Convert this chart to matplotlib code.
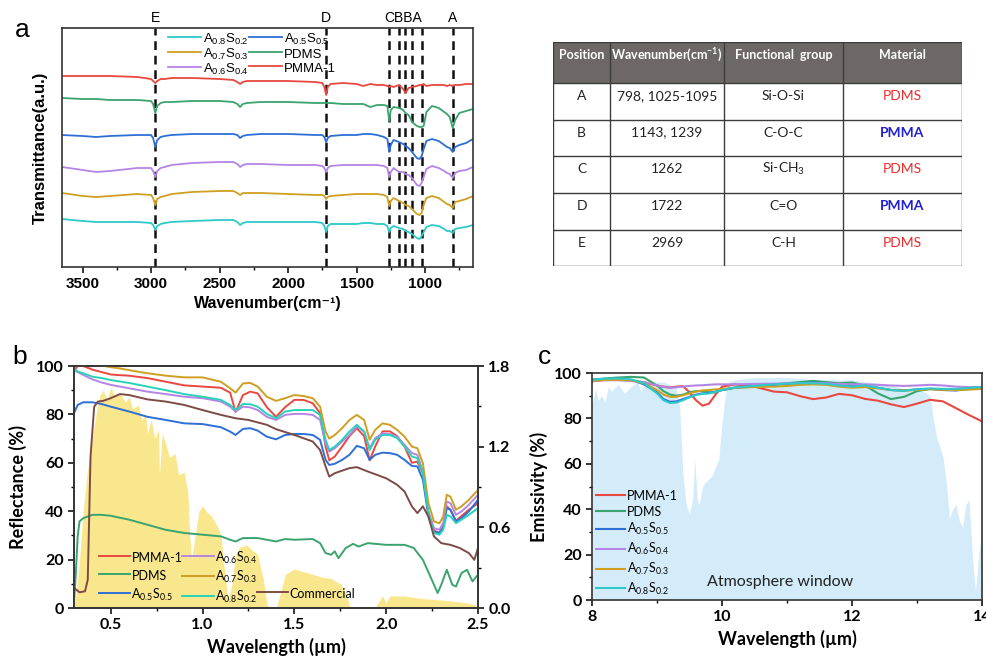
import matplotlib
matplotlib.use('Agg')
import matplotlib.pyplot as plt
from matplotlib.ticker import MultipleLocator
from matplotlib.lines import Line2D
from matplotlib.patches import Rectangle
import matplotlib.transforms as mtransforms

plt.rcParams['font.family'] = ['Liberation Sans', 'DejaVu Sans']
plt.rcParams['mathtext.default'] = 'regular'

# ---------------- data: (a) FTIR spectra, offset, arbitrary units ----------------
ftir_wn = [3650, 3500, 3400, 3300, 3100, 3000, 2985, 2969, 2955, 2930,
           2900, 2850, 2700, 2500, 2400, 2370, 2350, 2330, 2300, 2200,
           2000, 1800, 1750, 1735, 1722, 1710, 1690, 1600, 1500, 1450,
           1400, 1350, 1300, 1275, 1262, 1250, 1230, 1190, 1160, 1143,
           1120, 1095, 1060, 1040, 1025, 1010, 990, 950, 900, 860,
           840, 820, 798, 780, 750, 700, 650]
ftir_pmma = [191, 191, 191, 191, 190, 188, 186, 184, 186, 188,
             188, 189, 189, 188, 187, 185, 183, 185, 186, 186,
             186, 185, 184, 180, 172, 180, 183, 184, 183, 181,
             183, 182, 182, 181, 180, 181, 180, 182, 178, 174,
             179, 180, 181, 182, 182, 183, 181, 182, 182, 182,
             181, 182, 181, 182, 182, 183, 183]
ftir_pdms = [169, 168, 168, 167, 167, 166, 163, 154, 161, 164,
             165, 165, 166, 166, 165, 163, 160, 163, 164, 165,
             165, 164, 164, 164, 164, 164, 164, 163, 163, 163,
             160, 162, 162, 161, 146, 157, 160, 159, 157, 154,
             152, 145, 141, 140, 140, 141, 155, 161, 159, 155,
             153, 150, 139, 147, 154, 156, 158]
ftir_a55 = [132, 131, 130, 131, 132, 132, 129, 120, 127, 130,
            131, 132, 133, 133, 133, 132, 129, 131, 132, 133,
            133, 132, 132, 130, 125, 129, 131, 132, 132, 133,
            133, 132, 130, 128, 115, 122, 127, 125, 123, 121,
            119, 115, 109, 108, 111, 118, 126, 128, 126, 122,
            120, 119, 115, 120, 122, 124, 128]
ftir_a64 = [100, 97, 95, 96, 99, 99, 96, 90, 96, 99,
            100, 102, 104, 105, 105, 103, 100, 102, 103, 103,
            102, 102, 101, 99, 95, 99, 101, 102, 102, 102,
            102, 102, 101, 99, 90, 95, 99, 95, 95, 93,
            92, 89, 82, 81, 84, 90, 98, 101, 99, 96,
            94, 93, 89, 94, 96, 97, 100]
ftir_a73 = [74, 71, 70, 71, 73, 72, 69, 62, 68, 70,
            71, 73, 75, 76, 76, 74, 72, 74, 74, 74,
            73, 72, 72, 71, 68, 70, 71, 72, 73, 73,
            73, 73, 72, 70, 61, 66, 69, 66, 64, 62,
            61, 58, 53, 52, 54, 62, 69, 71, 69, 65,
            63, 62, 59, 65, 66, 68, 71]
ftir_a82 = [48, 46, 45, 45, 45, 44, 42, 37, 41, 43,
            44, 45, 46, 47, 47, 45, 42, 44, 45, 45,
            45, 45, 44, 41, 35, 41, 43, 43, 43, 44,
            44, 43, 43, 41, 35, 39, 41, 39, 38, 36,
            35, 33, 29, 28, 31, 35, 40, 42, 41, 38,
            36, 36, 34, 38, 39, 40, 42]

peak_lines = [2969, 1722, 1262, 1190, 1143, 1095, 1025, 798]
peak_letters = ['E', 'D', 'CBBA', 'A']
peak_letter_pos = [2969, 1722, 1158, 798]

# ---------------- data: table ----------------
tab_header = ['Position', 'Wavenumber(cm$^{-1}$)', 'Functional  group', 'Material']
tab_pos = ['A', 'B', 'C', 'D', 'E']
tab_wn = ['798, 1025-1095', '1143, 1239', '1262', '1722', '2969']
tab_group = ['Si-O-Si', 'C-O-C', 'Si-CH$_{3}$', 'C=O', 'C-H']
tab_mat = ['PDMS', 'PMMA', 'PDMS', 'PMMA', 'PDMS']

# ---------------- data: (b) reflectance (%) ----------------
refl_wl = [0.30, 0.32, 0.35, 0.40, 0.45, 0.50, 0.55, 0.60, 0.70, 0.80,
           0.90, 1.00, 1.10, 1.15, 1.18, 1.22, 1.26, 1.30, 1.35, 1.40,
           1.45, 1.50, 1.55, 1.60, 1.64, 1.67, 1.69, 1.72, 1.76, 1.80,
           1.84, 1.88, 1.91, 1.94, 1.98, 2.02, 2.06, 2.10, 2.14, 2.17,
           2.20, 2.23, 2.26, 2.29, 2.31, 2.33, 2.35, 2.38, 2.41, 2.45,
           2.50]
refl_pmma = [98, 100, 100, 98.5, 97.5, 96.5, 96.2, 96, 95, 93.5,
             92, 91.5, 91, 89, 81, 88, 89.4, 88.7, 83, 79,
             83, 86, 86, 84.6, 80.5, 66.7, 61, 62.6, 66.7, 71,
             74.3, 71, 61, 66.7, 73, 73, 71, 66.7, 60, 60.5,
             55.7, 39, 32, 31, 33.7, 42, 40.6, 36, 38, 40.6,
             43.3]
refl_a73 = [100.5, 100.5, 100.5, 100.5, 100.2, 99.5, 99, 98.3, 97, 96,
            95.3, 95.3, 93.5, 90.8, 89, 92.8, 93, 91.5, 87.3, 85.6,
            86.7, 88, 87.6, 86.7, 83.2, 72.9, 70, 71.5, 74.3, 77.7,
            79.8, 77.7, 69.5, 73.6, 76.3, 75.7, 73.6, 70.8, 66.7, 66,
            59.8, 43.3, 35.8, 35, 37.8, 46.8, 46, 40.6, 42, 44.7,
            48.8]
refl_a82 = [99, 97.7, 97, 95.6, 95, 94.2, 93.6, 93, 91.5, 90,
            88.4, 87.3, 86, 83.9, 81.8, 84.3, 84.2, 83.2, 80.2, 78.4,
            81.2, 81.8, 81.8, 81.8, 79.8, 69.5, 65.3, 66.7, 69.5, 72.9,
            75.7, 72.9, 65.3, 69.5, 71.5, 71.5, 70.2, 66.7, 62.6, 61.9,
            55.7, 39.2, 31, 30.3, 32.3, 38.5, 37.8, 35.1, 36.5, 38.5,
            41.3]
refl_a64 = [98.3, 97.5, 96.3, 94.5, 93.2, 92.2, 91.5, 90.8, 89.4, 88.4,
            87.3, 86.7, 85.3, 83.2, 81.2, 83.2, 82.9, 81.8, 79, 77.7,
            79.8, 80.2, 80.2, 79.8, 77.7, 68, 64.6, 66, 68.8, 71.5,
            75, 72.9, 66, 70.2, 72.2, 71.9, 70.8, 67.4, 64, 63.3,
            56.4, 39.9, 33, 32.3, 35.1, 44, 43.3, 38.5, 39.9, 42.6,
            46.8]
refl_a55 = [80.5, 83.9, 85, 85, 84.3, 83.2, 82.2, 81.2, 79, 77.7,
            76.3, 76, 74.7, 72.9, 71.5, 74, 74.3, 73.3, 70.8, 69.7,
            71.5, 71.9, 71.9, 71.5, 69.5, 61.2, 59.1, 59.6, 61.2, 63.3,
            67, 66, 61.2, 63.3, 64.2, 64, 63.3, 61.2, 58.7, 58.5,
            53, 37.8, 31.6, 31, 33, 41.3, 40.6, 35.8, 37.1, 39.9,
            44.7]

comm_wl = [0.30, 0.33, 0.36, 0.375, 0.39, 0.41, 0.43, 0.46, 0.50, 0.55,
           0.60, 0.70, 0.80, 0.90, 1.00, 1.10, 1.18, 1.25, 1.35, 1.40,
           1.50, 1.60, 1.64, 1.67, 1.69, 1.72, 1.80, 1.84, 1.90, 2.00,
           2.06, 2.10, 2.14, 2.17, 2.20, 2.23, 2.26, 2.30, 2.35, 2.40,
           2.45, 2.48, 2.50]
refl_comm = [8.3, 6.5, 6.9, 11.7, 62.6, 83.2, 85.3, 85.6, 86.7, 88.4,
             88, 86.2, 85.3, 83.9, 81.8, 79.8, 78.4, 77.7, 75.7, 73.9,
             71.5, 68.8, 65.3, 58.5, 54.3, 55.7, 57.8, 58.2, 56.4, 53.6,
             50.9, 48.1, 42, 39.2, 42, 37.8, 29.6, 26.8, 26.1, 24.8,
             22.7, 19.9, 24.8]

pdms_wl = [0.30, 0.31, 0.32, 0.33, 0.35, 0.40, 0.45, 0.50, 0.60, 0.70,
           0.80, 0.90, 1.00, 1.10, 1.15, 1.18, 1.22, 1.30, 1.35, 1.40,
           1.45, 1.50, 1.60, 1.64, 1.67, 1.70, 1.72, 1.74, 1.78, 1.82,
           1.85, 1.90, 2.00, 2.10, 2.15, 2.20, 2.24, 2.28, 2.30, 2.33,
           2.36, 2.38, 2.41, 2.44, 2.47, 2.50]
refl_pdms = [2, 14.4, 29.6, 35.8, 37.1, 38.5, 38.5, 38.1, 36.5, 34.4,
             32.3, 31, 30.3, 29.6, 28.2, 27.5, 28.9, 28.9, 28.2, 27.5,
             28.5, 28.2, 28.5, 26.8, 22.7, 22, 23.4, 20.6, 24.8, 26.5,
             25.4, 26.8, 26.1, 26.1, 24.8, 19.9, 13.1, 6.2, 9.6, 15.8,
             9.6, 8.9, 14.4, 15.8, 11, 13.8]

# AM1.5 solar irradiance (W m-2 nm-1), right axis
sun_wl = [0.30, 0.31, 0.33, 0.35, 0.37, 0.40, 0.42, 0.44, 0.46, 0.48,
          0.50, 0.52, 0.55, 0.58, 0.60, 0.62, 0.65, 0.67, 0.69, 0.70,
          0.72, 0.74, 0.76, 0.765, 0.78, 0.80, 0.82, 0.85, 0.87, 0.90,
          0.92, 0.93, 0.94, 0.96, 0.98, 1.00, 1.02, 1.05, 1.08, 1.10,
          1.12, 1.14, 1.16, 1.18, 1.20, 1.24, 1.27, 1.30, 1.33, 1.35,
          1.36, 1.40, 1.42, 1.45, 1.50, 1.55, 1.60, 1.65, 1.70, 1.75,
          1.78, 1.80, 1.81, 1.94, 1.96, 1.98, 2.00, 2.02, 2.05, 2.10,
          2.20, 2.30, 2.40, 2.45, 2.50]
sun_irr = [0, 0.09, 0.36, 0.72, 0.99, 1.26, 1.44, 1.58, 1.62, 1.55,
           1.64, 1.58, 1.60, 1.53, 1.57, 1.48, 1.51, 1.40, 1.44, 1.30,
           1.40, 1.26, 1.33, 0.99, 1.30, 1.22, 1.12, 1.15, 0.99, 1.01,
           0.86, 0.54, 0.36, 0.54, 0.72, 0.76, 0.72, 0.68, 0.61, 0.54,
           0.27, 0.05, 0.18, 0.40, 0.45, 0.47, 0.43, 0.40, 0.22, 0.04,
           0, 0, 0.09, 0.25, 0.29, 0.27, 0.25, 0.23, 0.22, 0.18,
           0.11, 0.02, 0, 0, 0.05, 0.09, 0.04, 0.09, 0.09, 0.09,
           0.07, 0.06, 0.045, 0.036, 0.018]

# ---------------- data: (c) emissivity (%) ----------------
atm_wl = [8.00, 8.05, 8.10, 8.15, 8.20, 8.25, 8.30, 8.40, 8.50, 8.60,
          8.70, 8.75, 8.80, 8.90, 9.00, 9.10, 9.20, 9.30, 9.35, 9.40,
          9.45, 9.50, 9.55, 9.58, 9.62, 9.65, 9.70, 9.75, 9.85, 9.95,
          10.00, 10.05, 10.10, 10.20, 10.50, 11.00, 11.50, 12.00, 12.50, 13.00,
          13.10, 13.20, 13.25, 13.30, 13.40, 13.45, 13.50, 13.55, 13.60, 13.65,
          13.70, 13.75, 13.80, 13.85, 13.90, 13.95, 14.00]
atm_t = [86, 93, 88, 90, 87, 94, 92, 95, 91, 94,
         96, 92, 95, 96, 96, 96, 95, 93, 85, 55,
         42, 38, 45, 62, 44, 42, 50, 52, 55, 62,
         78, 90, 96, 97, 98, 98, 97, 97, 95, 92,
         92, 90, 80, 72, 63, 52, 36, 40, 42, 35,
         32, 42, 44, 20, 4, 20, 30]

emis_wl = [8.0, 8.2, 8.4, 8.6, 8.8, 9.0, 9.1, 9.2, 9.3, 9.4,
           9.5, 9.6, 9.7, 9.8, 9.9, 10.0, 10.2, 10.5, 10.8, 11.0,
           11.2, 11.4, 11.6, 11.8, 12.0, 12.2, 12.4, 12.6, 12.8, 13.0,
           13.2, 13.4, 13.6, 13.8, 14.0]
emis_pmma = [96.3, 97, 97.2, 96.8, 95.9, 94.5, 94, 93.6, 94, 94.2,
             91.5, 88, 85.6, 86.5, 90.5, 94, 95, 94, 91.8, 91.5,
             89.8, 88.5, 89.2, 90.8, 90.2, 88.6, 87.8, 86.2, 85, 86.5,
             88.2, 87.5, 84.5, 81.5, 78.7]
emis_pdms = [97, 97.6, 98, 98.3, 98, 94.5, 92, 90.5, 90, 90.5,
             91.5, 92, 92, 91.5, 91.5, 92.5, 93.5, 94.5, 95, 95.5,
             96, 96.5, 96, 95.5, 95.8, 94.5, 91, 88.5, 89.5, 92,
             93, 92.8, 92.5, 93, 93.5]
emis_a55 = [97, 97.3, 97.5, 97, 95, 91.5, 88.5, 87.3, 87.5, 88.5,
            89.5, 90.5, 91, 91.2, 91.8, 92.5, 93.5, 94, 94.8, 95.2,
            95.5, 95.8, 95.5, 94.8, 94.3, 94.5, 93.5, 92.5, 92.3, 92.8,
            93, 92.5, 92.3, 93, 93.5]
emis_a64 = [96.5, 96.8, 96.8, 96.5, 96, 94.5, 93.8, 93.5, 93.7, 94,
            94.3, 94.5, 94.6, 94.8, 95, 95, 95, 95.2, 95.3, 95.4,
            95.5, 95.6, 95.5, 95.2, 95, 95, 94.8, 94.5, 94.3, 94.5,
            94.8, 94.5, 94, 93.8, 93.8]
emis_a73 = [96.5, 97, 97, 96.8, 95.5, 92.5, 90.5, 89.5, 89.5, 90.2,
            91, 91.8, 92.3, 92.5, 92.8, 93, 93.5, 93.8, 94, 94.3,
            94.8, 95, 94.8, 94, 93.5, 93.8, 93.2, 92.5, 92.3, 92.5,
            92.8, 92.6, 92.5, 92.7, 93]
emis_a82 = [97, 97.5, 97.6, 97.2, 95.5, 91, 88, 86.8, 87, 88,
            89.3, 90.3, 90.8, 91, 91.7, 92.5, 93.6, 94.3, 95, 95.3,
            95.5, 95.5, 95.2, 94.5, 94, 94.5, 93.5, 92.5, 92.2, 92.8,
            93.2, 93, 93, 93.5, 93.8]

# colours
c_red = '#e8483f'
c_green = '#3aa46e'
c_blue = '#2d6fd6'
c_purple = '#b585e6'
c_gold = '#cf9f22'
c_cyan = '#2ec9c9'
c_brown = '#7d4b45'

fig = plt.figure(figsize=(9.87, 6.6), dpi=100)
W, H = 987, 660


def px_axes(x0, y0, x1, y1):
    # axes rectangle from pixel corners (top-left, bottom-right)
    return fig.add_axes([x0 / W, 1 - y1 / H, (x1 - x0) / W, (y1 - y0) / H])


def style_spines(ax, lw=1.2):
    for s in ax.spines.values():
        s.set_linewidth(lw)
        s.set_color('#333333')


# ---------------- panel a ----------------
ax_a = px_axes(62, 28, 473, 267)
for x in peak_lines:
    ax_a.axvline(x, color='#111111', lw=1.8, ls=(0, (3.5, 2.3)), zorder=1)
ax_a.plot(ftir_wn, ftir_a82, color=c_cyan, lw=1.3, label='A$_{0.8}$S$_{0.2}$')
ax_a.plot(ftir_wn, ftir_a73, color=c_gold, lw=1.3, label='A$_{0.7}$S$_{0.3}$')
ax_a.plot(ftir_wn, ftir_a64, color=c_purple, lw=1.3, label='A$_{0.6}$S$_{0.4}$')
ax_a.plot(ftir_wn, ftir_a55, color=c_blue, lw=1.3, label='A$_{0.5}$S$_{0.5}$')
ax_a.plot(ftir_wn, ftir_pdms, color=c_green, lw=1.3, label='PDMS')
ax_a.plot(ftir_wn, ftir_pmma, color=c_red, lw=1.3, label='PMMA-1')
ax_a.set_xlim(3650, 650)
ax_a.set_ylim(0, 239)
ax_a.set_yticks([])
ax_a.xaxis.set_major_locator(MultipleLocator(500))
ax_a.xaxis.set_minor_locator(MultipleLocator(250))
ax_a.tick_params(axis='x', which='major', direction='out', length=4, width=1.1,
                 labelsize=11)
ax_a.tick_params(axis='x', which='minor', direction='out', length=2.5, width=1)
for lab in ax_a.get_xticklabels():
    lab.set_fontweight('bold')
ax_a.set_xlabel('Wavenumber(cm⁻¹)', fontsize=11.5, fontweight='bold', labelpad=3)
ax_a.set_ylabel('Transmittance(a.u.)', fontsize=12, fontweight='bold', labelpad=10)
style_spines(ax_a)
trans = mtransforms.blended_transform_factory(ax_a.transData, ax_a.transAxes)
for x, s in zip(peak_letter_pos, peak_letters):
    ax_a.text(x, 1.012, s, transform=trans, ha='center', va='bottom', fontsize=10)
ax_a.legend(ncol=2, loc='upper left', bbox_to_anchor=(0.235, 1.025), frameon=False,
            fontsize=9.5, handlelength=2.5, handletextpad=0.15, columnspacing=0.0,
            labelspacing=0.0, borderpad=0.2, handleheight=1.2)

# ---------------- table ----------------
tab = px_axes(553, 42, 962, 266)
tab.set_xlim(0, 409)
tab.set_ylim(224, 0)
tab.axis('off')
col_x = [0, 57, 171, 290, 409]
row_y = [0, 41, 77.5, 114, 151, 187.5, 224]
tab.add_patch(Rectangle((0, 0), 409, 41, facecolor='#6d6865', edgecolor='none'))
for x in col_x:
    tab.plot([x, x], [0, 224], color='#3c3c3c', lw=1.0)
for y in row_y:
    tab.plot([0, 409], [y, y], color='#3c3c3c', lw=1.0)
tfont = ['Lato', 'DejaVu Sans']
for i, h in enumerate(tab_header):
    cx = (col_x[i] + col_x[i + 1]) / 2
    tab.text(cx, 13, h, ha='center', va='center', color='white', fontsize=9,
             fontweight='bold', family=tfont)
for r in range(5):
    cy = row_y[r + 1] + 0.36 * (row_y[r + 2] - row_y[r + 1])
    cells = [tab_pos[r], tab_wn[r], tab_group[r]]
    for i, s in enumerate(cells):
        cx = (col_x[i] + col_x[i + 1]) / 2
        tab.text(cx, cy, s, ha='center', va='center', color='#222222', fontsize=10,
                 family=tfont)
    cx = (col_x[3] + col_x[4]) / 2
    if tab_mat[r] == 'PDMS':
        tab.text(cx, cy, tab_mat[r], ha='center', va='center', color='#ee2a2a',
                 fontsize=10, family=tfont)
    else:
        tab.text(cx, cy, tab_mat[r], ha='center', va='center', color='#2020d8',
                 fontsize=10, fontweight='bold', family=tfont)

# ---------------- panel b ----------------
bfont = ['Lato', 'DejaVu Sans']
ax_b = px_axes(74, 366, 478, 608)
ax_b2 = ax_b.twinx()
ax_b2.fill_between(sun_wl, 0, sun_irr, color='#f9e37a', alpha=0.85, lw=0)
ax_b2.set_ylim(0, 1.8)
ax_b2.set_yticks([0.0, 0.6, 1.2, 1.8])
ax_b2.yaxis.set_minor_locator(MultipleLocator(0.3))
ax_b.set_zorder(ax_b2.get_zorder() + 1)
ax_b.patch.set_visible(False)

l1, = ax_b.plot(refl_wl, refl_pmma, color=c_red, lw=1.4, label='PMMA-1')
l2, = ax_b.plot(pdms_wl, refl_pdms, color=c_green, lw=1.4, label='PDMS')
l3, = ax_b.plot(refl_wl, refl_a55, color=c_blue, lw=1.4, label='A$_{0.5}$S$_{0.5}$')
l4, = ax_b.plot(refl_wl, refl_a64, color=c_purple, lw=1.4, label='A$_{0.6}$S$_{0.4}$')
l5, = ax_b.plot(refl_wl, refl_a73, color=c_gold, lw=1.4, label='A$_{0.7}$S$_{0.3}$')
l6, = ax_b.plot(refl_wl, refl_a82, color='#27d3b8', lw=1.4, label='A$_{0.8}$S$_{0.2}$')
l7, = ax_b.plot(comm_wl, refl_comm, color=c_brown, lw=1.4, label='Commercial')
ax_b.set_xlim(0.3, 2.5)
ax_b.set_ylim(0, 100)
ax_b.set_xticks([0.5, 1.0, 1.5, 2.0, 2.5])
ax_b.xaxis.set_minor_locator(MultipleLocator(0.25))
ax_b.yaxis.set_major_locator(MultipleLocator(20))
ax_b.yaxis.set_minor_locator(MultipleLocator(10))
for a in (ax_b, ax_b2):
    a.tick_params(which='major', direction='out', length=4, width=1.1, labelsize=11.5)
    a.tick_params(which='minor', direction='out', length=2.5, width=1)
    for lab in a.get_xticklabels() + a.get_yticklabels():
        lab.set_fontweight('bold')
        lab.set_family(bfont)
    style_spines(a)
ax_b.set_xlabel('Wavelength (µm)', fontsize=13, fontweight='bold', family=bfont,
                labelpad=4)
ax_b.set_ylabel('Reflectance (%)', fontsize=13, fontweight='bold', family=bfont,
                labelpad=6)
blank = Line2D([], [], color='none')
ax_b.legend([l1, l2, l3, l4, l5, l6, blank, blank, l7],
            ['PMMA-1', 'PDMS', 'A$_{0.5}$S$_{0.5}$', 'A$_{0.6}$S$_{0.4}$',
             'A$_{0.7}$S$_{0.3}$', 'A$_{0.8}$S$_{0.2}$', '', '', 'Commercial'],
            ncol=3, loc='lower left', bbox_to_anchor=(0.04, -0.025), frameon=False,
            prop={'family': bfont, 'size': 9}, handlelength=2.5, handleheight=1.4,
            handletextpad=0.1, columnspacing=0.0, labelspacing=0.3, borderpad=0.2)

# ---------------- panel c ----------------
ax_c = px_axes(592, 373, 982, 600)
ax_c.fill_between(atm_wl, 0, atm_t, color='#d4ecfa', lw=0, zorder=0)
ax_c.plot(emis_wl, emis_pmma, color=c_red, lw=1.5, label='PMMA-1')
ax_c.plot(emis_wl, emis_pdms, color=c_green, lw=1.5, label='PDMS')
ax_c.plot(emis_wl, emis_a55, color=c_blue, lw=1.5, label='A$_{0.5}$S$_{0.5}$')
ax_c.plot(emis_wl, emis_a64, color=c_purple, lw=1.5, label='A$_{0.6}$S$_{0.4}$')
ax_c.plot(emis_wl, emis_a73, color=c_gold, lw=1.5, label='A$_{0.7}$S$_{0.3}$')
ax_c.plot(emis_wl, emis_a82, color=c_cyan, lw=1.5, label='A$_{0.8}$S$_{0.2}$')
ax_c.set_xlim(8, 14)
ax_c.set_ylim(0, 100)
ax_c.xaxis.set_major_locator(MultipleLocator(2))
ax_c.xaxis.set_minor_locator(MultipleLocator(1))
ax_c.yaxis.set_major_locator(MultipleLocator(20))
ax_c.yaxis.set_minor_locator(MultipleLocator(10))
ax_c.tick_params(which='major', direction='out', length=4, width=1.1, labelsize=11.5)
ax_c.tick_params(which='minor', direction='out', length=2.5, width=1)
for lab in ax_c.get_xticklabels() + ax_c.get_yticklabels():
    lab.set_fontweight('bold')
    lab.set_family(bfont)
style_spines(ax_c)
ax_c.set_xlabel('Wavelength (µm)', fontsize=13, fontweight='bold', family=bfont,
                labelpad=4)
ax_c.set_ylabel('Emissivity (%)', fontsize=13, fontweight='bold', family=bfont,
                labelpad=4)
ax_c.text(10.9, 8, 'Atmosphere window', ha='center', va='center', fontsize=11.5,
          family=bfont, color='#222222')
ax_c.legend(loc='lower left', bbox_to_anchor=(-0.012, -0.025), frameon=False,
            prop={'family': bfont, 'size': 9}, handlelength=2.3,
            handletextpad=0.2, labelspacing=0.3, borderpad=0.2)

# panel letters
fig.text(15 / W, 1 - 30 / H, 'a', fontsize=19, va='center', ha='left')
fig.text(12 / W, 1 - 357 / H, 'b', fontsize=19, va='center', ha='left')
fig.text(538 / W, 1 - 357 / H, 'c', fontsize=19, va='center', ha='left')

plt.savefig('out.png', dpi=100)
